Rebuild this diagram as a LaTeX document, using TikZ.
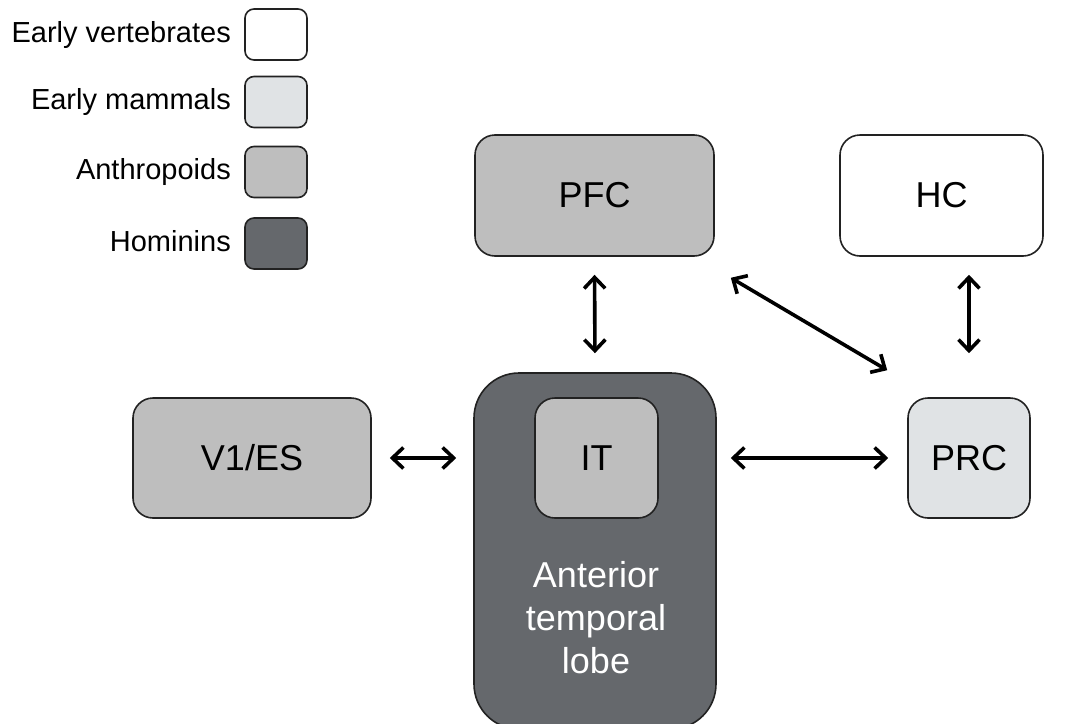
\documentclass[tikz,border=0pt]{standalone}
\usepackage{fontspec}
\setmainfont{Liberation Sans}
\usetikzlibrary{arrows.meta,calc}
\definecolor{vert}{HTML}{FFFFFF}
\definecolor{mamm}{HTML}{E0E3E5}
\definecolor{anth}{HTML}{BEBEBE}
\definecolor{homi}{HTML}{65686C}
\definecolor{edge}{HTML}{222222}
\tikzset{
  box/.style={draw=edge, line width=1.6pt, rectangle, rounded corners=20pt, inner sep=0pt,
    font=\fontsize{36}{44}\selectfont, text=black},
  legbox/.style={draw=edge, line width=1.6pt, rectangle, rounded corners=9pt, inner sep=0pt,
    minimum width=62pt, minimum height=51pt},
  legtext/.style={anchor=east, inner sep=0pt, font=\fontsize{29}{34}\selectfont,
    text height=21pt, text depth=6pt},
  biarrow/.style={line width=3.6pt, draw=black,
    {Straight Barb[length=11pt,width=21pt,line width=3.6pt]}-{Straight Barb[length=11pt,width=21pt,line width=3.6pt]}},
}
\begin{document}
\begin{tikzpicture}[x=1pt,y=-1pt]
\useasboundingbox[fill=white] (0,0) rectangle (1073,723);

% legend
\node[legbox, fill=vert] (L1) at (276,34.5) {};
\node[legbox, fill=mamm] (L2) at (276,102) {};
\node[legbox, fill=anth] (L3) at (276,172) {};
\node[legbox, fill=homi] (L4) at (276,243.5) {};
\node[legtext] (T1) at (231,34.5) {Early vertebrates};
\node[legtext] (T2) at (231,102) {Early mammals};
\node[legtext] (T3) at (231,172) {Anthropoids};
\node[legtext] (T4) at (231,243.5) {Hominins};

% main boxes
\node[box, fill=anth, minimum width=239pt, minimum height=121pt] (PFC) at (594.5,195.5) {PFC};
\node[box, fill=vert, minimum width=203pt, minimum height=121pt] (HC) at (941.5,195.5) {HC};
\node[box, fill=anth, minimum width=238pt, minimum height=120pt] (V1) at (252,458) {V1/ES};
\node[box, fill=homi, rounded corners=45pt, minimum width=242pt, minimum height=356pt] (ATL) at (595,551) {};
\node[box, fill=anth, minimum width=123pt, minimum height=120pt] (IT) at (596.5,458) {IT};
\node[box, fill=mamm, minimum width=122pt, minimum height=120pt] (PRC) at (969,458) {PRC};
\node[inner sep=0pt, align=center, text=white, font=\fontsize{36}{43}\selectfont] (ATLtext) at (596,618) {Anterior\\temporal\\lobe};

% connectors
\draw[biarrow, shorten <=18pt, shorten >=19pt] (PFC.south) -- (ATL.north);
\draw[biarrow, shorten <=18pt, shorten >=44pt] (PRC.north |- HC.south) -- (PRC.north);
\draw[biarrow, shorten <=18pt, shorten >=17pt] (V1.east) -- (V1.east -| ATL.west);
\draw[biarrow, shorten <=14pt, shorten >=19pt] (PRC.west -| ATL.east) -- (PRC.west);
\coordinate (dA) at ($(PFC.south east)+(16,21)$);
\coordinate (dB) at ($(PRC.north west)+(-20,-27)$);
\draw[biarrow] (dA) -- (dB);
\end{tikzpicture}
\end{document}
